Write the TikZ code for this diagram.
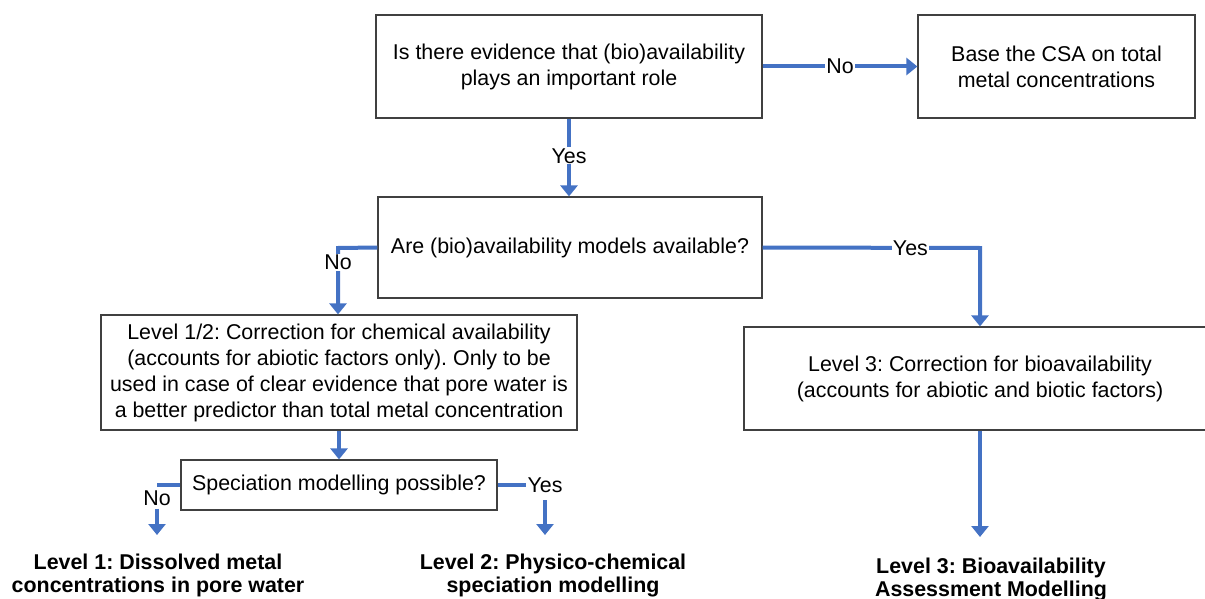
\documentclass[tikz,border=0pt]{standalone}
\usepackage{fontspec}
\setmainfont{Liberation Sans}
\usetikzlibrary{arrows.meta,positioning}
\frenchspacing
\definecolor{flowblue}{RGB}{68,114,196}
\definecolor{boxline}{RGB}{64,64,64}
\tikzset{
  decision/.style={draw=boxline, line width=1.2pt, align=center, inner sep=0pt,
    font=\fontsize{21.4}{26}\selectfont},
  outcome/.style={align=center, inner sep=0pt, font=\fontsize{21.4}{23.5}\selectfont\bfseries},
  flow/.style={draw=flowblue, line width=4pt,
    -{Triangle[width=17pt,length=11pt]}},
  tag/.style={fill=white, inner sep=1pt, font=\fontsize{21.4}{26}\selectfont},
}
\begin{document}
\begin{tikzpicture}[x=1pt,y=-1pt]
\useasboundingbox (0,0) rectangle (1205,599);

% question and level boxes
\node[decision, minimum width=386pt, minimum height=103pt] (evid) at (569,66.5)
  {Is there evidence that (bio)availability\\plays an important role};
\node[decision, minimum width=277pt, minimum height=103pt] (total) at (1056.5,66.5)
  {Base the CSA on total\\metal concentrations};
\node[decision, minimum width=384pt, minimum height=101pt] (models) at (570,247.5)
  {Are (bio)availability models available?};
\node[decision, minimum width=476pt, minimum height=115pt] (chem) at (339,372.5)
  {Level 1/2: Correction for chemical availability\\(accounts for abiotic factors only). Only to be\\used in case of clear evidence that pore water is\\a better predictor than total metal concentration};
\node[decision, minimum width=472pt, minimum height=103pt] (bio) at (980,378.5)
  {Level 3: Correction for bioavailability\\(accounts for abiotic and biotic factors)};
\node[decision, minimum width=316pt, minimum height=50pt] (spec) at (339,485)
  {Speciation modelling possible?};

% final outcomes
\node[outcome, anchor=north] (lvl1) at (158,553.5)
  {Level 1: Dissolved metal\\concentrations in pore water};
\node[outcome, anchor=north] (lvl2) at (553,553.5)
  {Level 2: Physico-chemical\\speciation modelling};
\node[outcome, anchor=north] (lvl3) at (991,557.5)
  {Level 3: Bioavailability\\Assessment Modelling};

% corner points of the elbow connectors
\coordinate (noA) at (338,248);
\coordinate (yesA) at (980,248);
\coordinate (noB) at (157,485);
\coordinate (yesB) at (545,485);

% connectors
\draw[flow] (evid.east) -- node[tag, pos=0.5] {No} (total.west);
\draw[flow] (evid.south -| 569,0) -- node[tag, pos=0.48] {Yes} (models.north -| 569,0);
\draw[flow] (models.west) -- (noA) -- node[tag, pos=0.22] {No} (chem.north -| noA);
\draw[flow] (models.east) -- node[tag, pos=0.68] {Yes} (yesA) -- (bio.north -| yesA);
\draw[flow] (chem.south) -- (spec.north);
\draw[draw=flowblue, line width=4pt] (spec.west) -- (noB);
\node[tag] (noTag) at (157,498) {No};
\draw[flow] (noTag.south) ++(0,2) coordinate (noStart) (noStart) -- (157,535);
\draw[draw=flowblue, line width=4pt] (spec.east) -- (526,485);
\node[tag] (yesTag) at (545,485) {Yes};
\draw[flow] (545,500) coordinate (yesStart) -- (545,535);
\draw[flow] (bio.south -| 980,0) -- (980,537);
\end{tikzpicture}
\end{document}
